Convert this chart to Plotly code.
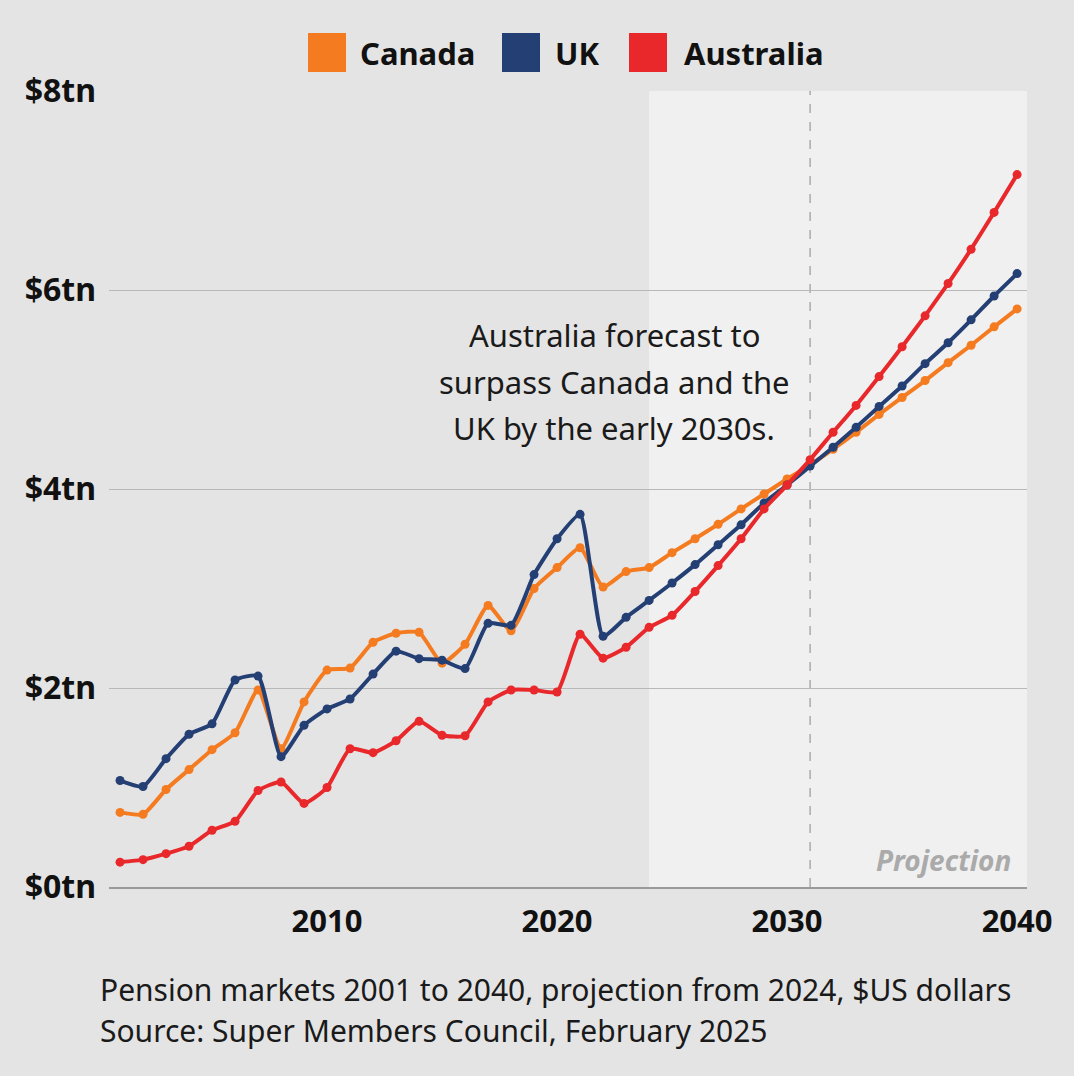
import plotly.graph_objects as go

years = list(range(2001, 2041))
canada = [0.75, 0.73, 0.98, 1.18, 1.38, 1.55, 1.98, 1.39, 1.86, 2.18,
          2.20, 2.46, 2.55, 2.56, 2.25, 2.44, 2.83, 2.575, 3.00, 3.21,
          3.41, 3.015, 3.17, 3.21, 3.36, 3.50, 3.645, 3.80, 3.95, 4.10,
          4.24, 4.40, 4.57, 4.75, 4.92, 5.09, 5.27, 5.445, 5.63, 5.81]
uk = [1.07, 1.01, 1.29, 1.535, 1.64, 2.08, 2.12, 1.31, 1.625, 1.79,
      1.89, 2.14, 2.37, 2.295, 2.28, 2.195, 2.65, 2.63, 3.14, 3.50,
      3.745, 2.52, 2.71, 2.88, 3.055, 3.24, 3.44, 3.64, 3.86, 4.04,
      4.23, 4.42, 4.62, 4.83, 5.035, 5.26, 5.47, 5.70, 5.94, 6.165]
australia = [0.25, 0.275, 0.335, 0.41, 0.57, 0.66, 0.97, 1.055, 0.84, 1.00,
             1.39, 1.35, 1.47, 1.665, 1.525, 1.52, 1.86, 1.98, 1.98, 1.96,
             2.54, 2.30, 2.41, 2.61, 2.73, 2.97, 3.23, 3.50, 3.80, 4.04,
             4.295, 4.57, 4.84, 5.13, 5.43, 5.74, 6.065, 6.41, 6.78, 7.16]

series_names = ["Canada", "UK", "Australia"]
series_colors = ["#F47B20", "#243F74", "#E8282B"]
y_ticks = [0, 2, 4, 6, 8]
y_ticktext = ["$0tn", "$2tn", "$4tn", "$6tn", "$8tn"]
x_ticks = [2010, 2020, 2030, 2040]
projection_start = 2024
marker_year = 2031

FONT = "Noto Sans"
BG = "#E4E4E4"

fig = go.Figure()

# projection shading
fig.add_shape(type="rect", xref="x", yref="paper", x0=projection_start, x1=2040.43,
              y0=0, y1=1, fillcolor="#F0F0F0", line_width=0, layer="below")
fig.add_shape(type="line", xref="x", yref="paper", x0=marker_year, x1=marker_year,
              y0=0, y1=1, line=dict(color="#999999", width=1.2, dash="dash"), layer="below")

for name, vals, col in zip(series_names, [canada, uk, australia], series_colors):
    fig.add_trace(go.Scatter(
        x=years, y=vals, name=name, mode="lines+markers",
        line=dict(color=col, width=4, shape="spline", smoothing=0.5),
        marker=dict(color=col, size=9),
        showlegend=False, hoverinfo="skip"))

# manual legend (squares + labels)
W, H = 918.0, 796.0
legend_items = [(308, 358), (502, 553), (629, 682)]
for (sq_x, tx_x), name, col in zip(legend_items, series_names, series_colors):
    fig.add_shape(type="rect", xref="paper", yref="paper",
                  x0=(sq_x - 109) / W, x1=(sq_x + 38 - 109) / W,
                  y0=(887 - 72) / H, y1=(887 - 33) / H,
                  fillcolor=col, line_width=0)
    fig.add_annotation(xref="paper", yref="paper", x=(tx_x - 109) / W, y=(887 - 53) / H,
                       text=f"<b>{name}</b>", showarrow=False, xanchor="left", yanchor="middle",
                       font=dict(family=FONT, size=31, color="#111111"))

# callout text
callout = ["Australia forecast to", "surpass Canada and the", "UK by the early 2030s."]
for i, line in enumerate(callout):
    fig.add_annotation(xref="x", yref="y", x=2022.48, y=5.545 - i * 0.468,
                       text=line, showarrow=False, xanchor="center", yanchor="middle",
                       font=dict(family=FONT, size=31, color="#1A1A1A"))

fig.add_annotation(xref="paper", yref="paper", x=(1013 - 109) / W, y=(887 - 860) / H,
                   text="<b><i>Projection</i></b>", showarrow=False, xanchor="right", yanchor="middle",
                   font=dict(family=FONT, size=28, color="#AAAAAA"))

footer = ["Pension markets 2001 to 2040, projection from 2024, $US dollars",
          "Source: Super Members Council, February 2025"]
for i, line in enumerate(footer):
    fig.add_annotation(xref="paper", yref="paper", x=(98 - 109) / W, y=(887 - 990 - 40 * i) / H,
                       text=line, showarrow=False, xanchor="left", yanchor="middle",
                       font=dict(family=FONT, size=30, color="#1A1A1A"))

fig.update_layout(
    width=1074, height=1076,
    paper_bgcolor=BG, plot_bgcolor=BG,
    margin=dict(l=109, r=47, t=91, b=189),
    font=dict(family=FONT, color="#111111"),
    showlegend=False,
    xaxis=dict(range=[2000.52, 2040.43], tickvals=x_ticks, ticktext=[f"<b>{v}</b>" for v in x_ticks],
               showgrid=False, zeroline=False, showline=True, linecolor="#9A9A9A", linewidth=1.5,
               ticks="", tickfont=dict(family=FONT, size=31, color="#111111"), ticklabelstandoff=6),
    yaxis=dict(range=[0, 8], tickvals=y_ticks, ticktext=[f"<b>{t}</b>" for t in y_ticktext],
               showgrid=True, gridcolor="#B8B8B8", gridwidth=1.2, zeroline=False, showline=False,
               ticks="", tickfont=dict(family=FONT, size=32, color="#111111"), ticklabelstandoff=12),
)

fig.write_html("out.html", config={"displayModeBar": False},
               post_script="document.body.style.margin='0';document.body.style.overflow='hidden';")
